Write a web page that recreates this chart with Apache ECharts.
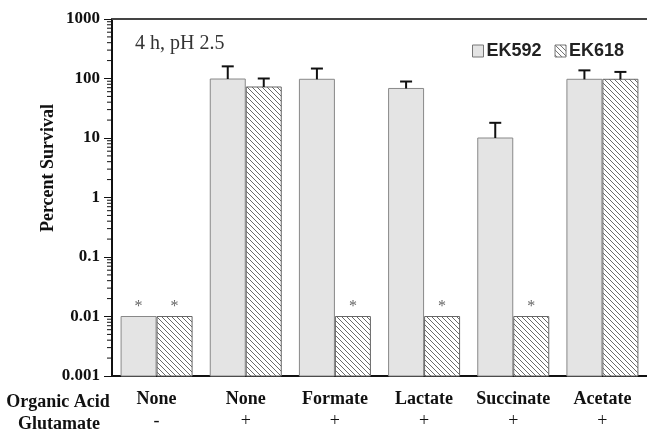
<!DOCTYPE html>
<html>
<head>
<meta charset="utf-8">
<script src="https://cdn.jsdelivr.net/npm/echarts@6/dist/echarts.min.js"></script>
<style>html,body{margin:0;padding:0;background:#fff;}#c{width:647px;height:430px;}</style>
</head>
<body>
<div id="c"></div>
<script>
var categories = ['None', 'None', 'Formate', 'Lactate', 'Succinate', 'Acetate'];
var glutamate = ['-', '+', '+', '+', '+', '+'];
var ek592 = [0.01, 98, 97, 68, 10, 97];
var ek618 = [0.01, 72, 0.01, 0.01, 0.01, 97];
var ek592ErrTop = [null, 160, 147, 89, 18, 137];
var ek618ErrTop = [null, 100, null, null, null, 129];
var ek592Star = [1, 0, 0, 0, 0, 0];
var ek618Star = [1, 0, 1, 1, 1, 0];
var yTickLabels = ['0.001', '0.01', '0.1', '1', '10', '100', '1000'];
var minorTicks = [];
for (var k = -3; k <= 2; k++) { for (var m = 2; m <= 9; m++) { minorTicks.push(m * Math.pow(10, k)); } }

// hatch pattern
var pc = document.createElement('canvas');
pc.width = 5; pc.height = 5;
var pctx = pc.getContext('2d');
pctx.fillStyle = '#ffffff'; pctx.fillRect(0, 0, 5, 5);
pctx.fillStyle = '#6a6a6a';
for (var i = 0; i < 5; i++) { pctx.fillRect(i, i, 1, 1); }
var hatch = { image: pc, repeat: 'repeat' };
var grayFill = '#e4e4e4';

function rows(vals, errs, stars) {
  return vals.map(function (v, i) { return [i, v, errs[i] == null ? 0 : errs[i], stars[i]]; });
}

function makeRender(side, fill, stroke) {
  return function (params, api) {
    var cat = api.value(0), v = api.value(1), err = api.value(2), star = api.value(3);
    var cs = params.coordSys;
    var bottom = cs.y + cs.height;
    var p = api.coord([cat, v]);
    var bw = 36;
    var x = side < 0 ? p[0] - bw : p[0];
    var cx = x + bw / 2;
    var children = [{
      type: 'rect',
      shape: { x: x + 0.5, y: p[1], width: bw - 1, height: bottom - p[1] },
      style: { fill: fill, stroke: stroke, lineWidth: 1 }
    }];
    if (err > 0) {
      var e = api.coord([cat, err]);
      children.push({ type: 'line', shape: { x1: cx, y1: p[1], x2: cx, y2: e[1] }, style: { stroke: '#111', lineWidth: 2 } });
      children.push({ type: 'line', shape: { x1: cx - 6, y1: e[1], x2: cx + 6, y2: e[1] }, style: { stroke: '#111', lineWidth: 2 } });
    }
    if (star) {
      children.push({ type: 'text', x: cx, y: p[1] - 2, style: { text: '*', fill: '#666', font: '16px "Liberation Serif"', align: 'center', verticalAlign: 'bottom' } });
    }
    return { type: 'group', children: children };
  };
}

var chart = echarts.init(document.getElementById('c'));
chart.setOption({
  animation: false,
  backgroundColor: '#fff',
  grid: { left: 112, top: 19, width: 538, height: 360 },
  legend: {
    left: 467, top: 37, itemWidth: 11, itemHeight: 12, itemGap: 13,
    icon: 'rect',
    textStyle: { fontFamily: 'Liberation Sans', fontWeight: 'bold', fontSize: 18, color: '#222', padding: [0, 0, 0, -2] },
    data: [
      { name: 'EK592', itemStyle: { color: grayFill, borderColor: '#777', borderWidth: 1 } },
      { name: 'EK618', itemStyle: { color: hatch, borderColor: '#777', borderWidth: 1 } }
    ]
  },
  xAxis: [{
    type: 'category', data: categories,
    axisLine: { lineStyle: { color: '#111', width: 2 } },
    axisTick: { show: false },
    axisLabel: {
      margin: 12, interval: 0,
      formatter: function (v, i) { return '{a|' + v + '}\n{b|' + glutamate[i] + '}'; },
      rich: {
        a: { fontFamily: 'Liberation Serif', fontWeight: 'bold', fontSize: 18, color: '#111', lineHeight: 22 },
        b: { fontFamily: 'Liberation Serif', fontSize: 18, color: '#111', lineHeight: 22 }
      }
    }
  }, {
    type: 'category', data: categories, position: 'top',
    axisLine: { lineStyle: { color: '#444', width: 2 } },
    axisTick: { show: false }, axisLabel: { show: false }
  }],
  yAxis: {
    type: 'log', logBase: 10, min: 0.001, max: 1000,
    axisLine: { show: true, lineStyle: { color: '#111', width: 2 } },
    axisTick: { show: true, length: 8, lineStyle: { color: '#111', width: 1 } },
    splitLine: { show: false },
    axisLabel: {
      margin: 12, color: '#111', fontFamily: 'Liberation Serif', fontWeight: 'bold', fontSize: 17,
      formatter: function (v) { return yTickLabels[Math.round(Math.log10(v)) + 3]; }
    }
  },
  graphic: [
    { type: 'text', left: 135, top: 34, style: { text: '4 h, pH 2.5', font: '20px "Liberation Serif"', fill: '#333' } },
    { type: 'text', x: 48, y: 168, rotation: Math.PI / 2, style: { text: 'Percent Survival', font: 'bold 18px "Liberation Serif"', fill: '#111', align: 'center', verticalAlign: 'middle' } },
    { type: 'text', x: 58, y: 402, style: { text: 'Organic Acid', font: 'bold 18px "Liberation Serif"', fill: '#111', align: 'center', verticalAlign: 'middle' } },
    { type: 'text', x: 59, y: 424, style: { text: 'Glutamate', font: 'bold 18px "Liberation Serif"', fill: '#111', align: 'center', verticalAlign: 'middle' } }
  ],
  series: [
    { name: 'EK592', type: 'custom', renderItem: makeRender(-1, grayFill, '#888'), data: rows(ek592, ek592ErrTop, ek592Star), itemStyle: { color: grayFill }, clip: false, z: 3 },
    { name: 'EK618', type: 'custom', renderItem: makeRender(1, hatch, '#666'), data: rows(ek618, ek618ErrTop, ek618Star), itemStyle: { color: hatch }, clip: false, z: 3 },
    {
      name: 'minor', type: 'custom', silent: true, clip: false, z: 4,
      data: minorTicks.map(function (v) { return [0, v]; }),
      renderItem: function (params, api) {
        var cs = params.coordSys;
        var y = api.coord([0, api.value(1)])[1];
        return { type: 'line', shape: { x1: cs.x - 5, y1: y, x2: cs.x, y2: y }, style: { stroke: '#111', lineWidth: 1 } };
      }
    }
  ]
});
</script>
</body>
</html>
